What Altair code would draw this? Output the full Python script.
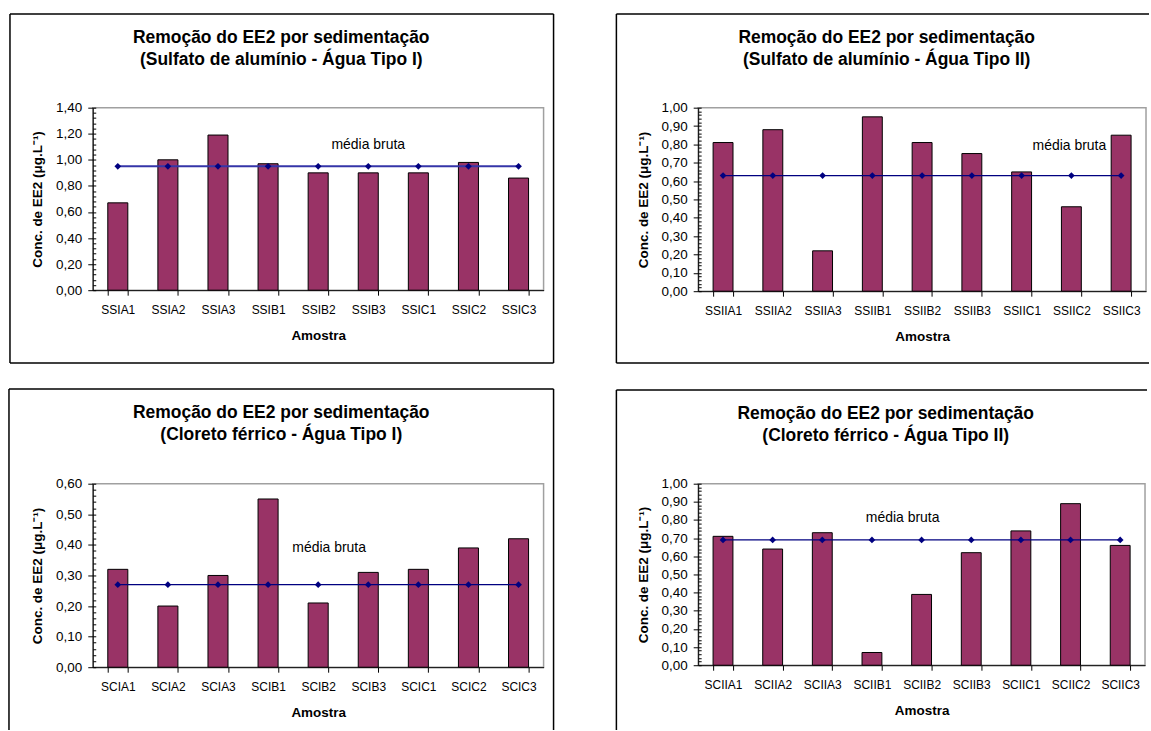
import altair as alt
import pandas as pd

FONT = "Liberation Sans"
BAR = "#993366"
NAVY = "#000080"

# ---- data ----
cats1 = ["SSIA1", "SSIA2", "SSIA3", "SSIB1", "SSIB2", "SSIB3", "SSIC1", "SSIC2", "SSIC3"]
vals1 = [0.67, 1.00, 1.19, 0.97, 0.90, 0.90, 0.90, 0.98, 0.86]
mean1 = 0.95

cats2 = ["SSIIA1", "SSIIA2", "SSIIA3", "SSIIB1", "SSIIB2", "SSIIB3", "SSIIC1", "SSIIC2", "SSIIC3"]
vals2 = [0.81, 0.88, 0.22, 0.95, 0.81, 0.75, 0.65, 0.46, 0.85]
mean2 = 0.63

cats3 = ["SCIA1", "SCIA2", "SCIA3", "SCIB1", "SCIB2", "SCIB3", "SCIC1", "SCIC2", "SCIC3"]
vals3 = [0.32, 0.20, 0.30, 0.55, 0.21, 0.31, 0.32, 0.39, 0.42]
mean3 = 0.27

cats4 = ["SCIIA1", "SCIIA2", "SCIIA3", "SCIIB1", "SCIIB2", "SCIIB3", "SCIIC1", "SCIIC2", "SCIIC3"]
vals4 = [0.71, 0.64, 0.73, 0.07, 0.39, 0.62, 0.74, 0.89, 0.66]
mean4 = 0.69

titles = [
    "(Sulfato de alumínio - Água Tipo I)",
    "(Sulfato de alumínio - Água Tipo II)",
    "(Cloreto férrico - Água Tipo I)",
    "(Cloreto férrico - Água Tipo II)",
]
title_main = "Remoção do EE2 por sedimentação"
ytitle = "Conc. de EE2 (μg.L⁻¹)"
label_text = "média bruta"


def frange(stop, step):
    n = int(round(stop / step))
    return [round(i * step, 4) for i in range(n + 1)]


def panel(sub, cats, vals, mean, ymax, major, w, h, lab_cat, lab_val, lab_dx,
          sides, line_color, line_w, title_x, title_y):
    df = pd.DataFrame({"Amostra": cats, "v": vals, "m": [mean] * len(cats)})
    yscale = alt.Scale(domain=[0, ymax], nice=False, zero=True)
    xscale = alt.Scale(paddingInner=0.6, paddingOuter=0.3)
    majors = frange(ymax, major)
    minors = frange(ymax, major / 5)

    xaxis = alt.Axis(title="Amostra", labelAngle=0, tickBand="extent", tickSize=5,
                     labelPadding=9, titlePadding=13, titleFontWeight="bold",
                     titleFontSize=13.5, domainColor="black", tickColor="black")
    yaxis = alt.Axis(title=ytitle, values=majors, tickSize=5, labelPadding=6,
                     labelOverlap=False, labelFontSize=13.5,
                     labelExpr="replace(format(datum.value, '.2f'), '.', ',')",
                     titlePadding=11, titleFontWeight="bold", titleFontSize=13.5,
                     domainColor="black", tickColor="black")

    def X():
        return alt.X("Amostra:N", sort=cats, scale=xscale, axis=xaxis)

    def Y(field):
        return alt.Y(field, scale=yscale, axis=yaxis)

    one = pd.DataFrame({"a": [0]})
    borders = [
        alt.Chart(one).mark_rule(color="black", strokeWidth=1.5).encode(
            x=alt.value(s[0]), x2=alt.value(s[1]), y=alt.value(s[2]), y2=alt.value(s[3]))
        for s in sides
    ]
    heads = [
        alt.Chart(one).mark_text(font=FONT, fontSize=17.5, fontWeight="bold", color="black",
                                 align="center", baseline="middle").encode(
            x=alt.value(title_x), y=alt.value(ty), text=alt.value(t))
        for t, ty in zip([title_main, sub], title_y)
    ]

    bars = alt.Chart(df).mark_bar(color=BAR, stroke="black", strokeWidth=1).encode(
        x=X(), y=Y("v:Q"))
    line = alt.Chart(df).mark_line(color=line_color, strokeWidth=line_w).encode(
        x=X(), y=Y("m:Q"))
    pts = alt.Chart(df).mark_point(shape="diamond", filled=True, color=NAVY,
                                   size=45, opacity=1).encode(
        x=X(), y=Y("m:Q"))
    lab = pd.DataFrame({"Amostra": [lab_cat], "v": [lab_val], "t": [label_text]})
    txt = alt.Chart(lab).mark_text(font=FONT, fontSize=14, color="black", dx=lab_dx).encode(
        x=X(), y=Y("v:Q"), text="t:N")

    inner = alt.layer(*borders, *heads, bars, line, pts, txt)

    minor = alt.Chart(pd.DataFrame({"t": minors})).mark_point(opacity=0).encode(
        y=alt.Y("t:Q", scale=yscale,
                axis=alt.Axis(orient="right", offset=-w, values=minors, labels=False,
                              domain=False, tickSize=3, tickColor="black", title=None)))

    return alt.layer(inner, minor).resolve_scale(y="independent").properties(
        width=w, height=h)


# sides: (x1, x2, y1, y2) in panel pixel space (chart-frame box)
p1 = panel(titles[0], cats1, vals1, mean1, 1.4, 0.2, 452, 183, "SSIB3", 1.11, 0,
           [(-83, 462, -94, -94), (-83, 462, 256, 256), (-83, -83, -94, 256), (462, 462, -94, 256)],
           "#3535a8", 2, 189, [-70, -48])
p2 = panel(titles[1], cats2, vals2, mean2, 1.0, 0.1, 449, 184, "SSIIC2", 0.79, -2,
           [(-82, 452, -94, -94), (-82, 452, 256, 256), (-82, -82, -94, 256)],
           NAVY, 1.2, 189, [-70, -48])
p3 = panel(titles[2], cats3, vals3, mean3, 0.6, 0.1, 452, 184, "SCIB2", 0.39, 11,
           [(-84, 462, -95, -95), (-84, -84, -95, 247), (462, 462, -95, 247)],
           NAVY, 1.2, 189, [-71, -49])
p4 = panel(titles[3], cats4, vals4, mean4, 1.0, 0.1, 448, 182, "SCIIB2", 0.81, -19,
           [(-82, 450, -94, -94), (-82, -82, -94, 247)],
           NAVY, 1.2, 188, [-70, -48])

chart = alt.concat(
    p1, p2, p3, p4, columns=2,
    spacing={"row": 193, "column": 155}, bounds="flush",
).properties(
    padding={"left": 7, "top": 11, "right": 0, "bottom": 0},
    background="white",
).configure_view(
    stroke="#a0a0a0", strokeWidth=1.5
).configure_axis(
    labelFont=FONT, titleFont=FONT, labelFontSize=12, titleFontSize=12,
    labelColor="black", titleColor="black", grid=False,
)

chart.save("out.html", embed_options={"renderer": "svg", "actions": False})
